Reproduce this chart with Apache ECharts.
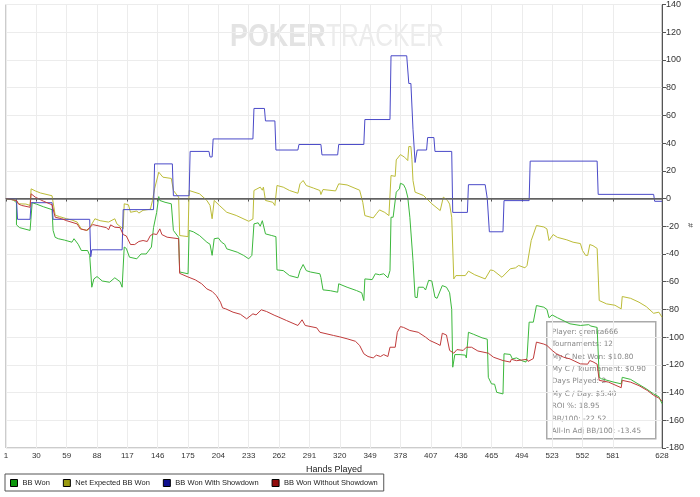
<!DOCTYPE html>
<html>
<head>
<meta charset="utf-8">
<script src="https://cdn.jsdelivr.net/npm/echarts@6/dist/echarts.min.js"></script>
<style>
  html, body { margin: 0; padding: 0; background: #fff; }
  #main { width: 700px; height: 497px; }
</style>
</head>
<body>
<div id="main"></div>
<script>
// hand tick labels on the x axis
var handTicks = [1, 30, 59, 88, 117, 146, 175, 204, 233, 262, 291, 320, 349, 378, 407, 436, 465, 494, 523, 552, 581, 628];

// [hand, BB]
var bbWon = [[1,0],[8,-1],[11,-3],[11,-19],[14,-21],[24,-23],[26,-3],[30,-4],[37,-6],[45,-8],[46,-23],[48,-28],[51,-29],[57,-30],[64,-31.5],[66,-29],[70,-33],[73,-37.5],[79,-37.5],[81,-41],[83,-64],[85,-58],[88,-56.3],[93,-59.5],[100,-60.4],[105,-57.2],[110,-60],[112,-64],[114,-35],[116,-36],[119,-42.3],[126,-43.5],[130,-40],[135,-40],[140,-35],[142,-21],[145,-10],[147,1.4],[148,-1.4],[153,-2.7],[159,-3.8],[161,-23],[166,-28],[167,-53],[175,-54.3],[176,-23],[180,-24],[186,-26.7],[193,-31.5],[196,-33],[198,-41],[200,-29],[204,-28.5],[207,-31.5],[210,-33],[212,-36.3],[222,-38.7],[228,-41],[233,-43.5],[236,-41],[238,-18.3],[242,-17.5],[244,-20],[246,-16],[249,-25.5],[255,-26.7],[259,-27.5],[260,-51.5],[266,-52],[272,-55.6],[280,-57.2],[282,-52],[285,-47.6],[288,-52],[292,-53],[301,-54.3],[302,-57],[304,-65.9],[311,-66.5],[318,-67.6],[319,-61.5],[327,-64],[336,-66.4],[341,-68],[343,-73.6],[344,-58],[351,-58.5],[354,-54.3],[358,-55],[362,-54.3],[366,-57.2],[368,-52],[369,-13.5],[371,-13.5],[374,4.6],[377,7],[378,11],[381,10],[383,7],[385,1],[387,-13.5],[390,-44.7],[392,-71.2],[394,-71.5],[395,-64],[400,-64],[402,-66],[405,-59],[408,-59.5],[411,-71.2],[413,-72],[418,-62.8],[422,-64],[425,-68],[427,-80],[428,-121.7],[430,-112.6],[435,-112.6],[440,-113],[441,-115],[443,-96.5],[448,-98],[456,-100.5],[461,-101.5],[462,-129],[465,-133.7],[468,-134],[470,-139.8],[476,-141],[477,-112],[483,-112.5],[485,-115.7],[489,-115],[494,-117],[498,-118],[499,-114.5],[501,-89.2],[505,-89.2],[508,-77.2],[515,-78.4],[518,-80],[520,-86],[523,-84],[528,-86],[540,-90.4],[550,-91.6],[558,-91],[560,-92],[566,-93],[568,-129],[570,-130],[582,-132.5],[589,-133.7],[590,-129],[598,-130.5],[605,-133.7],[613,-137.3],[620,-141],[625,-143],[628,-148]];

var netExpected = [[1,0],[11,-1.4],[13,-3.8],[20,-4],[24,-5],[25,7],[29,5.5],[34,4],[45,2],[48,-12],[52,-13],[59,-14.6],[64,-15.5],[69,-17],[73,-22],[79,-23],[81,-21],[86,-14.6],[91,-16],[99,-17],[105,-14.6],[107,-18.3],[113,-21.9],[114,-3.8],[118,-4.5],[120,-9.9],[126,-9],[128,-10.5],[132,-8.5],[139,-7.7],[141,-1.4],[143,7],[147,19],[151,15.4],[159,14.5],[161,5.8],[166,1],[167,-26.7],[175,-27.5],[176,5.8],[186,3.4],[193,-1.4],[196,-5],[198,-14.6],[200,-1.4],[205,-5],[212,-9.9],[221,-12.2],[233,-16.4],[237,-14.8],[238,5.8],[244,8.2],[246,6],[247,8.2],[249,-1.4],[256,-2.7],[258,-5],[260,9.4],[266,8.2],[272,5.8],[280,3.8],[282,10.6],[285,13],[288,9.4],[295,7.5],[301,5.8],[302,2.9],[304,6.5],[316,5.5],[319,10.6],[327,9.8],[339,6],[342,-2.7],[344,-12.3],[352,-14],[355,-11],[358,-8.2],[363,-10],[367,-12.3],[369,16.6],[373,16],[374,27.9],[378,31.7],[382,29.8],[385,27.4],[386,37.5],[388,37.5],[389,28],[390,13],[392,4.6],[400,2.2],[408,-3.8],[416,-8.7],[419,1],[423,-1.4],[425,-4],[427,-13.5],[429,-58],[431,-55.6],[440,-55.6],[443,-52.4],[449,-55],[459,-58],[464,-51.5],[467,-52],[475,-56.8],[483,-50.7],[488,-50],[491,-48.3],[497,-50],[499,-48.3],[503,-30.3],[508,-19.5],[515,-20.5],[518,-21.9],[520,-30.3],[524,-26],[528,-28],[537,-29.8],[543,-31.5],[550,-32.5],[552,-37.5],[555,-41],[557,-41],[559,-33.2],[562,-34],[566,-36],[568,-73.6],[575,-76],[583,-77],[589,-79.6],[590,-70.7],[598,-72],[606,-74.8],[613,-78],[620,-82.8],[625,-82],[628,-85.6]];

var withShowdown = [[1,0],[11,0],[12,-15],[24,-15],[25,-3],[45,-3],[46,-15],[81,-15],[82,-42],[83,-37],[112,-37],[113,-8],[142,-8],[143,25],[160,25],[161,2],[176,2],[177,34],[195,34],[196,30],[198,30],[199,43],[237,43],[238,65],[248,65],[249,56],[258,56],[259,35],[280,35],[281,39],[302,39],[303,31.5],[318,31.5],[319,39],[343,39],[344,57],[368,57],[369,103],[384,103],[386,83],[388,83],[390,50],[392,26],[394,35],[403,35],[404,44],[410,44],[411,34],[427,34],[428,-10],[442,-10],[443,10],[459,10],[461,0],[463,-24],[476,-24],[477,-1.5],[501,-1.5],[502,27],[566,27],[567,3],[620,3],[621,-2],[628,-2]];

var withoutShowdown = [[1,0],[11,-1.4],[13,-4],[16,-5],[24,-6.3],[25,3.4],[29,1],[37,-2],[45,-4.5],[48,-13.5],[54,-14.5],[59,-16],[69,-18.3],[72,-21.9],[78,-23],[81,-21],[84,-18.8],[91,-20],[97,-21],[99,-22.6],[101,-19],[105,-20.7],[110,-21],[113,-26],[116,-27],[120,-33.2],[124,-33.2],[128,-31],[132,-30.3],[136,-31],[139,-26.7],[142,-25.5],[145,-26],[148,-21.9],[150,-26],[155,-27.9],[166,-29],[167,-54],[174,-56.3],[182,-58.7],[188,-61.5],[193,-65.2],[198,-67],[202,-70],[206,-74.8],[208,-78.9],[211,-79.6],[218,-82],[225,-83.5],[231,-86.8],[237,-83.2],[240,-84],[245,-80.3],[250,-81.5],[258,-84.4],[260,-85],[269,-88],[280,-91.6],[284,-87.5],[287,-91.6],[298,-93.3],[301,-96.5],[314,-98.8],[320,-99.8],[327,-101.2],[335,-103],[339,-106],[343,-112],[347,-114],[352,-115],[355,-113],[359,-114],[362,-112.6],[366,-114],[368,-107.3],[373,-107.3],[375,-96.5],[378,-92.4],[381,-93],[387,-95.2],[395,-96.5],[402,-100],[406,-102.4],[413,-104.8],[416,-106],[418,-97.2],[422,-98.5],[425,-109.6],[429,-111.6],[432,-109],[438,-109.6],[441,-107.3],[446,-107.3],[452,-110],[462,-111.6],[467,-114.5],[476,-116.9],[483,-118],[484,-116],[489,-117],[494,-116.5],[499,-116],[500,-117.5],[505,-115.5],[508,-103.6],[515,-105],[518,-106],[523,-109.6],[527,-112],[534,-114.5],[540,-115.7],[550,-119.3],[557,-119.5],[559,-116.9],[562,-117.8],[566,-119.5],[568,-131.2],[577,-132.5],[589,-136.5],[590,-131.2],[598,-132.5],[606,-135],[614,-138.5],[620,-142],[625,-144],[628,-146.2]];

var seriesNames = ['BB Won', 'Net Expected BB Won', 'BB Won With Showdown', 'BB Won Without Showdown'];
var lineColors = ['#3cb83c', '#bcbc38', '#4a4ac8', '#c03c3c'];
var swatchColors = ['#0c960c', '#9a9a10', '#10108e', '#920c0c'];

var statLines = [
  'Player: grenka666',
  'Tournaments: 12',
  'My C Net Won: $10.80',
  'My C / Tournament: $0.90',
  'Days Played: 2',
  'My C / Day: $5.40',
  'ROI %: 18.95',
  'BB/100: -22.52',
  'All-In Adj BB/100: -13.45'
];

var chart = echarts.init(document.getElementById('main'));

var allData = [bbWon, netExpected, withShowdown, withoutShowdown];
var series = [];
for (var i = 0; i < allData.length; i++) {
  series.push({
    name: seriesNames[i],
    type: 'line',
    data: allData[i],
    showSymbol: false,
    symbol: 'none',
    animation: false,
    lineStyle: { color: lineColors[i], width: 1 },
    itemStyle: { color: lineColors[i] },
    z: 3
  });
}
// dark zero line
series[0].markLine = {
  silent: true,
  symbol: 'none',
  label: { show: false },
  lineStyle: { color: '#666', width: 1.5, type: 'solid' },
  data: [{ yAxis: 0 }],
  animation: false
};

var statText = statLines.join('\n');

var option = {
  animation: false,
  backgroundColor: '#fff',
  grid: {
    left: 6, right: 38, top: 4, bottom: 49,
    show: true, borderColor: '#999', borderWidth: 1
  },
  xAxis: {
    type: 'value',
    min: 1, max: 628,
    name: 'Hands Played',
    nameLocation: 'middle',
    nameGap: 15,
    nameTextStyle: { fontFamily: 'Liberation Sans', fontSize: 9, color: '#222' },
    axisLine: { lineStyle: { color: '#555' } },
    axisTick: { show: true, length: 3, inside: false, customValues: handTicks, lineStyle: { color: '#555' } },
    axisLabel: { customValues: handTicks, fontFamily: 'Liberation Sans', fontSize: 8, color: '#333', margin: 4 },
    splitLine: { show: true, lineStyle: { color: '#ececec' } }
  },
  yAxis: {
    type: 'value',
    position: 'right',
    min: -180, max: 140, interval: 20,
    axisLine: { show: true, lineStyle: { color: '#555' } },
    axisTick: { show: true, length: 4, lineStyle: { color: '#555' } },
    axisLabel: { fontFamily: 'Liberation Sans', fontSize: 9, color: '#333', margin: 4 },
    splitLine: { show: true, lineStyle: { color: '#ececec' } }
  },
  legend: {
    left: 5, top: 474,
    orient: 'horizontal',
    icon: 'rect',
    itemWidth: 7, itemHeight: 7,
    itemGap: 13,
    padding: [5, 6, 4, 5],
    borderColor: '#555', borderWidth: 1,
    textStyle: { fontFamily: 'Liberation Sans', fontSize: 7.5, color: '#222' },
    data: seriesNames.map(function (n, k) {
      return { name: n, itemStyle: { color: swatchColors[k], borderColor: '#000', borderWidth: 1 } };
    })
  },
  graphic: [
    { type: 'text', left: 230, top: 21, silent: true, z: 0, scaleX: 0.84,
      style: { text: 'POKER', fill: '#e3e3e3', font: 'bold 32px "Liberation Sans"' } },
    { type: 'text', left: 326, top: 21, silent: true, z: 0, scaleX: 0.77,
      style: { text: 'TRACKER', fill: '#ececec', font: '32px "Liberation Sans"' } },
    { type: 'text', left: 686, top: 223, rotation: -Math.PI / 2, silent: true,
      style: { text: '#', fill: '#333', font: '8px "Liberation Sans"' } },
    { type: 'group', left: 546, top: 321, z: 100,
      children: [
        { type: 'rect', shape: { x: 0, y: 0, width: 109, height: 117 },
          style: { fill: 'rgba(255,255,255,0.55)', stroke: '#aaa', lineWidth: 1.5 } },
        { type: 'text', x: 5, y: 4,
          style: { text: statText, fill: '#888', font: '7.3px "DejaVu Sans"', lineHeight: 12.4 } }
      ]
    }
  ],
  series: series
};

chart.setOption(option);
</script>
</body>
</html>
